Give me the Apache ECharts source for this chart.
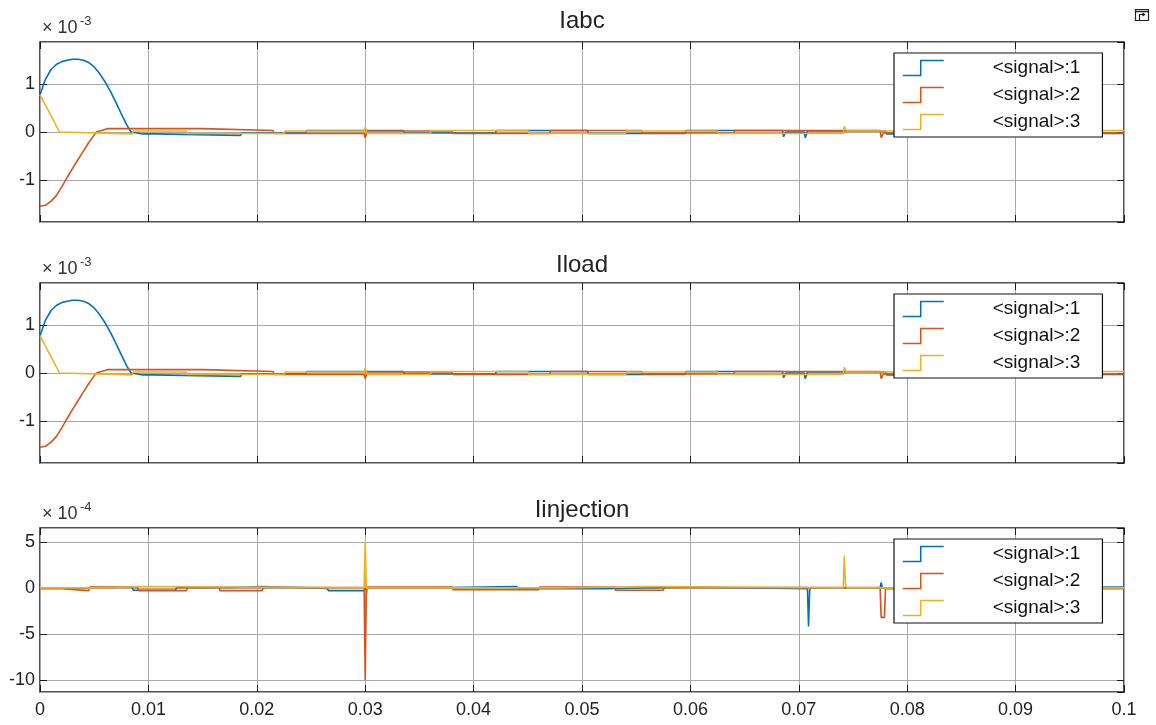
<!DOCTYPE html>
<html>
<head>
<meta charset="utf-8">
<script src="https://cdn.jsdelivr.net/npm/echarts@6/dist/echarts.min.js"></script>
<style>
html, body { margin: 0; padding: 0; background: #fff; }
#chart { width: 1156px; height: 725px; }
</style>
</head>
<body>
<div id="chart"></div>
<script>
// panel titles and legend names
const panelTitles = ['Iabc', 'Iload', 'Iinjection'];
const exponents = ['-3', '-3', '-4'];
const signalNames = ['<signal>:1', '<signal>:2', '<signal>:3'];

// x axis (time, s)
const timeMin = 0;
const timeMax = 0.1;
const timeStep = 0.01;

// y ranges per panel (in units of the panel multiplier)
const yMins = [-1.88, -1.88, -11.3];
const yMaxs = [1.88, 1.88, 6.5];

// Iabc, x1e-3 : [t, value]
const abcSig1 = [[0, 0.78], [0.0005, 1.1], [0.001, 1.3], [0.0015, 1.41], [0.002, 1.47], [0.0025, 1.5], [0.003, 1.52],
  [0.0035, 1.52], [0.004, 1.5], [0.0045, 1.45], [0.005, 1.36], [0.0055, 1.22], [0.006, 1.05], [0.0065, 0.85],
  [0.007, 0.62], [0.0075, 0.38], [0.008, 0.15], [0.0084, 0], [0.0095, -0.04], [0.0105, -0.04], [0.0106, -0.07],
  [0.0185, -0.07], [0.0186, -0.02], [0.0245, -0.02], [0.0246, 0.03], [0.0335, 0.03], [0.0336, -0.02], [0.042, -0.02],
  [0.0421, 0.03], [0.0505, 0.03], [0.0506, -0.03], [0.0595, -0.03], [0.0596, 0.03], [0.0685, 0.03], [0.0686, -0.1],
  [0.0688, 0], [0.0705, 0], [0.0706, -0.12], [0.0708, 0.02], [0.078, 0.02], [0.0781, -0.04], [0.087, -0.04],
  [0.0871, 0.02], [0.0955, 0.02], [0.0956, -0.03], [0.1, -0.03]];
const abcSig2 = [[0, -1.55], [0.0005, -1.53], [0.001, -1.45], [0.0015, -1.33], [0.002, -1.15], [0.0025, -0.95],
  [0.003, -0.76], [0.0035, -0.58], [0.004, -0.4], [0.0045, -0.22], [0.005, -0.06], [0.0052, 0], [0.0062, 0.07],
  [0.015, 0.07], [0.0151, 0.03], [0.0215, 0.03], [0.0216, -0.03], [0.0299, -0.03], [0.03, -0.12], [0.0302, 0.02],
  [0.038, 0.02], [0.0381, -0.03], [0.047, -0.03], [0.0471, 0.03], [0.0555, 0.03], [0.0556, -0.02], [0.064, -0.02],
  [0.0641, 0.03], [0.0775, 0.03], [0.0776, -0.12], [0.0778, -0.02], [0.0865, -0.02], [0.0866, 0.03], [0.095, 0.03],
  [0.0951, -0.02], [0.1, -0.02]];
const abcSig3 = [[0, 0.78], [0.0018, 0], [0.0019, -0.04], [0.0085, -0.04], [0.0086, 0.02], [0.0135, 0.02],
  [0.0136, -0.03], [0.0225, -0.03], [0.0226, 0.02], [0.0299, 0.02], [0.03, 0.1], [0.0302, -0.03], [0.036, -0.03],
  [0.0361, 0.03], [0.045, 0.03], [0.0451, -0.03], [0.054, -0.03], [0.0541, 0.02], [0.0625, 0.02], [0.0626, -0.03],
  [0.0741, -0.03], [0.0742, 0.12], [0.0744, 0.02], [0.083, 0.02], [0.0831, -0.03], [0.092, -0.03], [0.0921, 0.03],
  [0.1, 0.03]];

// Iload looks the same as Iabc
const loadSig1 = abcSig1;
const loadSig2 = abcSig2;
const loadSig3 = abcSig3;

// Iinjection, x1e-4
const injSig1 = [[0, 0], [0.004, 0], [0.0041, 0.1], [0.0085, 0.1], [0.0086, -0.25], [0.0125, -0.25], [0.0126, 0.05],
  [0.0175, 0.05], [0.0176, 0.15], [0.0205, 0.15], [0.0206, -0.05], [0.0265, -0.05], [0.0266, -0.3], [0.0299, -0.3],
  [0.03, -0.5], [0.0301, 0], [0.036, 0], [0.0361, 0.15], [0.044, 0.15], [0.0441, -0.1], [0.052, -0.1], [0.0521, 0.1],
  [0.06, 0.1], [0.0601, -0.1], [0.0708, -0.1], [0.0709, -4.2], [0.071, -0.3], [0.0711, 0], [0.0775, 0],
  [0.0776, 0.6], [0.0777, 0], [0.085, 0], [0.0851, 0.1], [0.1, 0.1]];
const injSig2 = [[0, -0.1], [0.002, -0.1], [0.0021, -0.3], [0.0045, -0.3], [0.0046, 0.1], [0.009, 0.1], [0.0091, -0.3],
  [0.0135, -0.3], [0.0136, 0.05], [0.0165, 0.05], [0.0166, -0.3], [0.0205, -0.3], [0.0206, 0.05], [0.0299, 0.05],
  [0.03, -10], [0.0301, -0.8], [0.0302, 0.1], [0.038, 0.1], [0.0381, -0.2], [0.046, -0.2], [0.0461, 0.1],
  [0.053, 0.1], [0.0531, -0.25], [0.0575, -0.25], [0.0576, 0.05], [0.0775, 0.05], [0.0776, -3.2], [0.0779, -3.2],
  [0.078, -0.1], [0.1, -0.1]];
const injSig3 = [[0, 0], [0.0055, 0], [0.0056, 0.15], [0.0095, 0.15], [0.0096, 0], [0.0299, 0], [0.03, 5],
  [0.0301, 0], [0.048, 0], [0.0481, 0.15], [0.056, 0.15], [0.0561, 0], [0.0741, 0], [0.0742, 3.5], [0.0743, 0.5],
  [0.0744, 0], [0.1, 0]];

const panelData = [
  [abcSig1, abcSig2, abcSig3],
  [loadSig1, loadSig2, loadSig3],
  [injSig1, injSig2, injSig3]
];

const colors = ['#0072BD', '#D95319', '#EDB120'];
const fontFam = "'Liberation Sans', Arial, sans-serif";
const stepIcon = 'path://M0,15 L18,15 L18,0 L41,0';

const gridTops = [42, 283, 528];
const gridHeights = [180, 180, 164];
const plotLeft = 40, plotWidth = 1084;

const grid = [], xAxis = [], yAxis = [], series = [], title = [], legend = [], graphic = [];

for (let p = 0; p < 3; p++) {
  grid.push({
    left: plotLeft, top: gridTops[p], width: plotWidth, height: gridHeights[p],
    show: true, borderColor: '#1a1a1a', borderWidth: 1.5, backgroundColor: '#fff'
  });
}

// bottom / left axes carry grid lines and labels
for (let p = 0; p < 3; p++) {
  xAxis.push({
    type: 'value', gridIndex: p, min: timeMin, max: timeMax, interval: timeStep,
    axisLine: { show: false, onZero: false },
    axisTick: { show: true, inside: true, length: 7, lineStyle: { color: '#1a1a1a' } },
    axisLabel: { show: p === 2, margin: 9, fontSize: 18, color: '#222', fontFamily: fontFam },
    splitLine: { show: true, lineStyle: { color: '#a8a8a8', width: 1 } }
  });
}
for (let p = 0; p < 3; p++) {
  yAxis.push({
    type: 'value', gridIndex: p, min: yMins[p], max: yMaxs[p], splitNumber: 4,
    axisLine: { show: false, onZero: false },
    axisTick: { show: true, inside: true, length: 7, lineStyle: { color: '#1a1a1a' } },
    axisLabel: { margin: 5, fontSize: 18, color: '#222', fontFamily: fontFam, showMinLabel: false, showMaxLabel: false },
    splitLine: { show: true, lineStyle: { color: '#a8a8a8', width: 1 } }
  });
}
// top / right axes: ticks only (box style)
for (let p = 0; p < 3; p++) {
  xAxis.push({
    type: 'value', gridIndex: p, position: 'top', min: timeMin, max: timeMax, interval: timeStep,
    axisLine: { show: false, onZero: false },
    axisTick: { show: true, inside: true, length: 7, lineStyle: { color: '#1a1a1a' } },
    axisLabel: { show: false }, splitLine: { show: false }
  });
  yAxis.push({
    type: 'value', gridIndex: p, position: 'right', min: yMins[p], max: yMaxs[p], splitNumber: 4,
    axisLine: { show: false, onZero: false },
    axisTick: { show: true, inside: true, length: 7, lineStyle: { color: '#1a1a1a' } },
    axisLabel: { show: false }, splitLine: { show: false }
  });
}

for (let p = 0; p < 3; p++) {
  for (let s = 0; s < 3; s++) {
    series.push({
      name: signalNames[s], type: 'line', xAxisIndex: p, yAxisIndex: p,
      data: panelData[p][s], showSymbol: false, symbol: 'none',
      color: colors[s], lineStyle: { color: colors[s], width: 1.6 },
      z: 2
    });
  }
}

const titleTops = [4.5, 248.5, 493.5];
for (let p = 0; p < 3; p++) {
  title.push({
    text: panelTitles[p], left: 577, top: titleTops[p], textAlign: 'center',
    textStyle: { fontSize: 24, fontWeight: 'normal', color: '#222', fontFamily: fontFam }
  });
}

// legend boxes sit on their own layer so they hide the traces under them
for (let p = 0; p < 3; p++) {
  legend.push({
    zlevel: 1, z: 10,
    orient: 'vertical', left: 894, top: gridTops[p] + 11,
    padding: [5, 22, 5, 8], itemGap: 7, itemWidth: 41, itemHeight: 15,
    icon: stepIcon, selectedMode: false,
    backgroundColor: '#fff', borderColor: '#111', borderWidth: 1.2,
    textStyle: { fontSize: 19, color: '#111', fontFamily: fontFam, padding: [0, 0, 0, 44], lineHeight: 20 },
    data: signalNames.map((n, i) => ({
      name: n,
      itemStyle: { color: 'rgba(0,0,0,0)', borderColor: colors[i], borderWidth: 1.5 }
    }))
  });
}

// x10^n multipliers above each panel
const multBaselines = [35, 276, 521];
for (let p = 0; p < 3; p++) {
  graphic.push({
    type: 'text', left: 42, top: multBaselines[p] - 16,
    style: { text: '× 10', fontSize: 18, fill: '#333', fontFamily: fontFam }
  });
  graphic.push({
    type: 'text', left: 80, top: multBaselines[p] - 20,
    style: { text: exponents[p], fontSize: 13, fill: '#333', fontFamily: fontFam }
  });
}
// little undock icon in the corner
graphic.push({
  type: 'group', left: 1133, top: 7,
  children: [
    { type: 'rect', shape: { x: 0, y: 0, width: 13, height: 11 }, style: { fill: 'none', stroke: '#222', lineWidth: 1.2 } },
    { type: 'line', shape: { x1: 0, y1: 2, x2: 13, y2: 2 }, style: { stroke: '#222', lineWidth: 1.5 } },
    { type: 'polyline', shape: { points: [[4, 11], [4, 5], [9, 5]] }, style: { fill: 'none', stroke: '#222', lineWidth: 1.2 } },
    { type: 'polyline', shape: { points: [[7, 3.5], [9, 5], [7, 6.5]] }, style: { fill: 'none', stroke: '#222', lineWidth: 1.2 } }
  ]
});

const chart = echarts.init(document.getElementById('chart'));
chart.setOption({
  animation: false,
  backgroundColor: '#fff',
  title: title,
  legend: legend,
  grid: grid,
  xAxis: xAxis,
  yAxis: yAxis,
  series: series,
  graphic: graphic
});
</script>
</body>
</html>
